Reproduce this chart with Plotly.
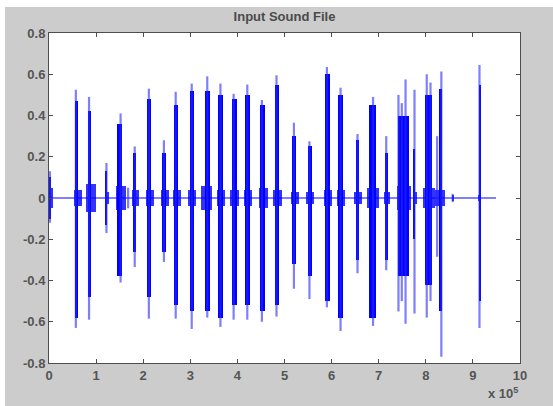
import plotly.graph_objects as go

# ---- data (x in units of 1e5 samples) ----
# main bands of each burst: start, end, upper and lower level of the dense part
core_x0 = [0.00, 0.55, 0.82, 1.20, 1.45, 1.79, 2.08, 2.40, 2.66, 3.00, 3.32, 3.59, 3.88, 4.17, 4.48, 4.79,
           5.16, 5.49, 5.86, 6.14, 6.51, 6.80, 7.14, 7.42, 7.74, 7.99, 8.30, 9.13]
core_x1 = [0.05, 0.62, 0.90, 1.24, 1.56, 1.85, 2.16, 2.48, 2.74, 3.07, 3.41, 3.69, 3.99, 4.26, 4.58, 4.89,
           5.25, 5.58, 5.96, 6.24, 6.59, 6.95, 7.19, 7.64, 7.78, 8.13, 8.34, 9.16]
core_top = [0.10, 0.47, 0.42, 0.13, 0.36, 0.22, 0.48, 0.22, 0.45, 0.52, 0.52, 0.50, 0.48, 0.50, 0.45, 0.55,
            0.30, 0.25, 0.60, 0.50, 0.28, 0.45, 0.22, 0.40, 0.24, 0.50, 0.53, 0.55]
core_bot = [-0.10, -0.58, -0.48, -0.13, -0.38, -0.26, -0.48, -0.26, -0.52, -0.55, -0.55, -0.58, -0.52, -0.52,
            -0.55, -0.52, -0.32, -0.38, -0.50, -0.58, -0.30, -0.58, -0.30, -0.38, -0.20, -0.42, -0.55, -0.50]

# individual peaks: position, maximum, minimum
peak_x = [0.02, 0.57, 0.85, 1.22, 1.52, 1.68, 1.82, 2.12, 2.44, 2.69, 3.03, 3.36, 3.64, 3.92, 4.21, 4.52,
          4.83, 5.20, 5.53, 5.90, 6.19, 6.55, 6.88, 7.16, 7.42, 7.49, 7.57, 7.76, 8.02, 8.10, 8.24, 8.33,
          8.57, 9.14]
peak_max = [0.13, 0.525, 0.49, 0.17, 0.41, 0.05, 0.25, 0.53, 0.28, 0.515, 0.555, 0.59, 0.555, 0.505, 0.55,
            0.475, 0.595, 0.365, 0.275, 0.635, 0.535, 0.31, 0.49, 0.30, 0.50, 0.46, 0.575, 0.525, 0.60,
            0.56, 0.30, 0.613, 0.02, 0.645]
peak_min = [-0.12, -0.63, -0.59, -0.17, -0.41, -0.05, -0.335, -0.585, -0.31, -0.585, -0.635, -0.58, -0.625,
            -0.59, -0.59, -0.60, -0.575, -0.44, -0.49, -0.53, -0.645, -0.365, -0.62, -0.35, -0.55, -0.50,
            -0.61, -0.56, -0.58, -0.50, -0.285, -0.77, -0.02, -0.63]

# low-level activity around each burst: start, end, amplitude
low_x0 = [0.00, 0.54, 0.78, 1.18, 1.42, 1.76, 2.05, 2.38, 2.63, 2.96, 3.22, 3.56, 3.84, 4.14, 4.45, 4.76,
          5.13, 5.46, 5.83, 6.11, 6.48, 6.76, 7.11, 7.38, 7.72, 7.95, 8.20, 8.55, 9.11]
low_x1 = [0.09, 0.70, 1.00, 1.27, 1.64, 1.92, 2.22, 2.54, 2.80, 3.12, 3.46, 3.74, 4.04, 4.32, 4.64, 4.94,
          5.30, 5.62, 6.00, 6.28, 6.64, 7.00, 7.24, 7.68, 7.82, 8.20, 8.40, 8.59, 9.18]
low_amp = [0.05, 0.04, 0.07, 0.03, 0.06, 0.04, 0.04, 0.04, 0.04, 0.04, 0.06, 0.04, 0.04, 0.04, 0.05, 0.04,
           0.03, 0.03, 0.04, 0.04, 0.03, 0.05, 0.03, 0.06, 0.03, 0.05, 0.04, 0.015, 0.015]

signal_end = 9.49

x_ticks = [0, 1, 2, 3, 4, 5, 6, 7, 8, 9, 10]
x_tick_labels = ["0", "1", "2", "3", "4", "5", "6", "7", "8", "9", "10"]
y_ticks = [-0.8, -0.6, -0.4, -0.2, 0, 0.2, 0.4, 0.6, 0.8]
y_tick_labels = ["-0.8", "-0.6", "-0.4", "-0.2", "0", "0.2", "0.4", "0.6", "0.8"]

BLUE = "#0000ff"
FONT = "Liberation Sans, Arial, sans-serif"

fig = go.Figure()

# baseline (silence)
fig.add_trace(go.Scatter(x=[0, signal_end], y=[0, 0], mode="lines",
                         line=dict(color=BLUE, width=1.2), hoverinfo="skip"))

# low-level activity
fig.add_trace(go.Bar(
    x=[(a + b) / 2 for a, b in zip(low_x0, low_x1)],
    width=[b - a for a, b in zip(low_x0, low_x1)],
    base=[-a for a in low_amp],
    y=[2 * a for a in low_amp],
    marker=dict(color="rgba(0,0,255,0.8)", line=dict(width=0)),
))

# peaks (thin strokes)
sx, sy = [], []
for x, hi, lo in zip(peak_x, peak_max, peak_min):
    sx += [x, x, None]
    sy += [lo, hi, None]
fig.add_trace(go.Scatter(x=sx, y=sy, mode="lines",
                         line=dict(color="rgba(40,40,255,0.6)", width=2.2), hoverinfo="skip"))

# dense band of each burst
fig.add_trace(go.Bar(
    x=[(a + b) / 2 for a, b in zip(core_x0, core_x1)],
    width=[b - a for a, b in zip(core_x0, core_x1)],
    base=core_bot,
    y=[t - b for t, b in zip(core_top, core_bot)],
    marker=dict(color=BLUE, line=dict(width=0)),
))

axis_common = dict(showline=True, linecolor="#4d4d4d", linewidth=1, mirror="ticks",
                   ticks="inside", ticklen=4, tickcolor="#4d4d4d", showgrid=False, zeroline=False,
                   automargin=False,
                   tickfont=dict(family=FONT, size=13, color="#555555", weight="bold"))

fig.update_layout(
    width=553, height=406,
    margin=dict(l=49, r=33, t=33, b=43, autoexpand=False),
    paper_bgcolor="white", plot_bgcolor="white",
    showlegend=False, barmode="overlay", bargap=0,
    title=dict(text="Input Sound File", x=0.5, xref="paper", xanchor="center",
               y=1 - 16 / 406, yref="container", yanchor="middle", automargin=False,
               font=dict(family=FONT, size=13, color="#4a4a4a", weight="bold")),
    xaxis=dict(range=[0, 10], tickvals=x_ticks, ticktext=x_tick_labels, **axis_common),
    yaxis=dict(range=[-0.8, 0.8], tickvals=y_ticks, ticktext=y_tick_labels, **axis_common),
    shapes=[
        dict(type="rect", xref="paper", yref="paper", x0=-0.0934, x1=1.08, y0=-0.2, y1=1.0788,
             fillcolor="#cccccc", line=dict(width=0), layer="below"),
        dict(type="rect", xref="paper", yref="paper", x0=0, x1=1, y0=0, y1=1,
             fillcolor="white", line=dict(width=0), layer="below"),
    ],
    annotations=[
        dict(text="x 10<sup>5</sup>", xref="paper", yref="paper", x=1.0, y=-0.12,
             xanchor="right", yanchor="bottom", showarrow=False,
             font=dict(family=FONT, size=13, color="#555555", weight="bold")),
    ],
)

fig.write_html("out.html", config={"displayModeBar": False},
               post_script="document.body.style.margin='0px';")
